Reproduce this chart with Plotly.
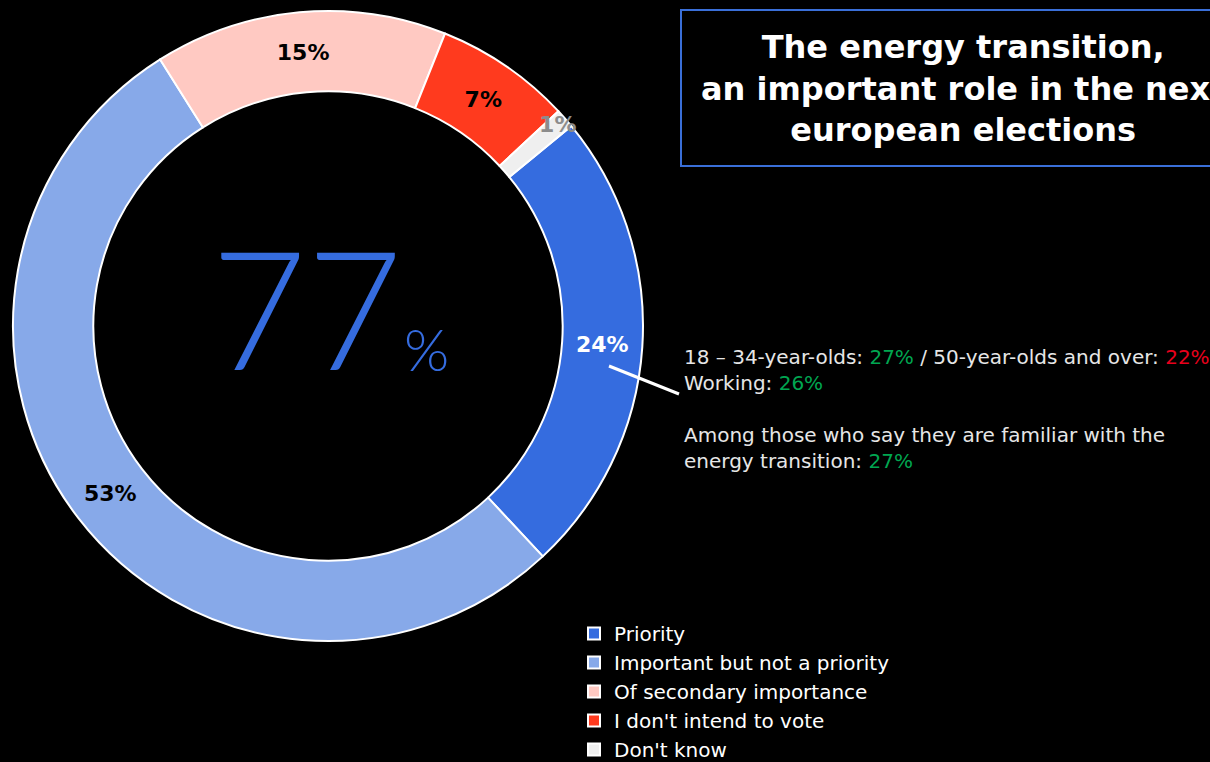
import plotly.graph_objects as go

# answers to the question, share of respondents (%)
categories = ['Priority', 'Important but not a priority', 'Of secondary importance',
              "I don't intend to vote", "Don't know"]
values = [24, 53, 15, 7, 1]
slice_colors = ['#356CDF', '#87A9E9', '#FFC9C2', '#FF3A1E', '#EFEFEF']
label_colors = ['#FFFFFF', '#000000', '#000000', '#000000', '#8C8C8C']

headline = '77'
title_lines = ['The energy transition,', 'an important role in the next', 'european elections']
GREEN = '#00A651'
RED = '#E8001C'

W, H = 1210, 762
FONT = 'DejaVu Sans'


def px_x(x):
    return x / W


def px_y(y):
    return 1 - y / H


fig = go.Figure(go.Pie(
    labels=categories,
    values=values,
    sort=False,
    direction='clockwise',
    rotation=50.6,
    hole=0.745,
    marker=dict(colors=slice_colors, line=dict(color='#FFFFFF', width=2)),
    texttemplate='<b>%{value}%</b>',
    textposition='inside',
    insidetextorientation='horizontal',
    textfont=dict(color=label_colors, size=22, family=FONT),
    domain=dict(x=[px_x(12), px_x(644)], y=[px_y(641), px_y(11)]),
    hoverinfo='label+percent',
))

# big number in the middle
fig.add_annotation(x=px_x(404), y=px_y(306), xref='paper', yref='paper',
                   text=headline, showarrow=False, xanchor='right',
                   font=dict(family='Lato', size=165, color='#356CDF', weight=300))
fig.add_annotation(x=px_x(402), y=px_y(348), xref='paper', yref='paper',
                   text='%', showarrow=False, xanchor='left',
                   font=dict(family='Lato', size=58, color='#356CDF', weight=300))

# title box
fig.add_shape(type='rect', xref='paper', yref='paper',
              x0=px_x(681), x1=px_x(1230), y0=px_y(166), y1=px_y(10),
              line=dict(color='#3A6FD8', width=2), fillcolor='rgba(0,0,0,0)')
fig.add_annotation(x=px_x(963), y=px_y(89), xref='paper', yref='paper',
                   text='<br>'.join(title_lines), showarrow=False,
                   align='center', xanchor='center', yanchor='middle',
                   font=dict(family=FONT, size=32, color='#FFFFFF', weight='bold'))

# callout from the Priority slice
fig.add_shape(type='line', xref='paper', yref='paper',
              x0=px_x(609), y0=px_y(366), x1=px_x(679), y1=px_y(394),
              line=dict(color='#FFFFFF', width=3))
callout = (
    f"18 – 34-year-olds: <span style='color:{GREEN}'>27%</span> / "
    f"50-year-olds and over: <span style='color:{RED}'>22%</span><br>"
    f"Working: <span style='color:{GREEN}'>26%</span><br><br>"
    f"Among those who say they are familiar with the<br>"
    f"energy transition: <span style='color:{GREEN}'>27%</span>"
)
fig.add_annotation(x=px_x(682), y=px_y(343), xref='paper', yref='paper',
                   text=callout, showarrow=False, align='left',
                   xanchor='left', yanchor='top',
                   font=dict(family=FONT, size=20, color='#E6E6E6'))

fig.update_layout(
    width=W, height=H,
    margin=dict(l=0, r=0, t=0, b=0, autoexpand=False),
    paper_bgcolor='#000000',
    plot_bgcolor='#000000',
    uniformtext=dict(minsize=22, mode='show'),
    legend=dict(x=px_x(574), y=px_y(614), xanchor='left', yanchor='top',
                font=dict(family=FONT, size=20, color='#FFFFFF'),
                bgcolor='rgba(0,0,0,0)', tracegroupgap=0, itemwidth=30),
    showlegend=True,
)

fig.write_html('out.html', config={'displayModeBar': False},
               post_script="document.body.style.margin='0';")
